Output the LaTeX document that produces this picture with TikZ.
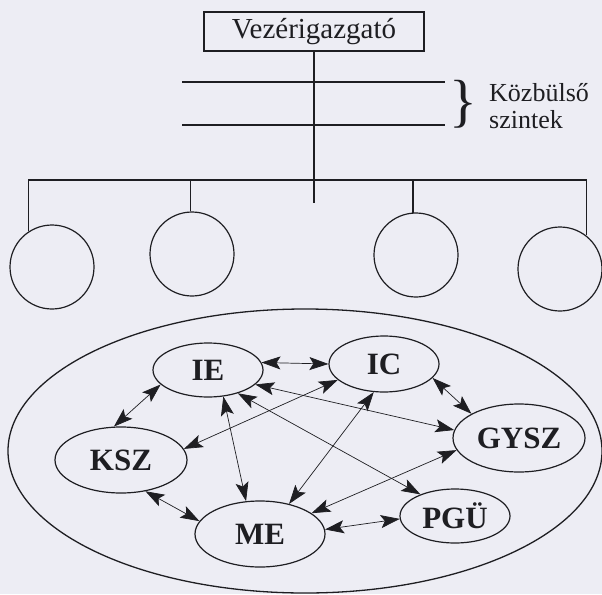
\documentclass[tikz,border=0pt]{standalone}
\usepackage{fontspec}
\setmainfont{Liberation Serif}
\usetikzlibrary{shapes.geometric,arrows.meta}
\definecolor{paper}{RGB}{237,237,244}
\definecolor{ink}{RGB}{30,30,34}
\begin{document}
\begin{tikzpicture}[
  struct/.style={line width=1.3pt, draw=ink},
  unitc/.style={circle, draw=ink, line width=1.2pt, minimum size=84pt, inner sep=0pt},
  dept/.style={ellipse, draw=ink, line width=1.2pt, inner sep=0pt, text=ink,
               font=\fontsize{31}{33}\selectfont\bfseries},
  link/.style={line width=0.7pt, draw=ink,
     {Stealth[length=19pt,width=13pt,inset=4pt]}-{Stealth[length=19pt,width=13pt,inset=4pt]}},
]
\begin{scope}[x=1pt,y=-1pt]
\useasboundingbox (0,0) rectangle (602,594);
\fill[paper] (0,0) rectangle (602,594);

% --- hierarchy ---
\node[draw=ink, line width=1.2pt, minimum width=220pt, minimum height=39pt, inner sep=0pt,
      text=ink, font=\fontsize{29}{30}\selectfont] (vez) at (314,31.5) {Vezérigazgató};
\coordinate (stub) at (314,203);
\coordinate (hub) at (314,180);
\draw[struct] (vez.south) -- (stub);
\coordinate (l1a) at (182,82);  \coordinate (l1b) at (445,82);
\coordinate (l2a) at (182,125); \coordinate (l2b) at (445,125);
\draw[struct] (l1a) -- (l1b);
\draw[struct] (l2a) -- (l2b);
\node[text=ink, inner sep=0pt, font=\fontsize{58}{58}\selectfont] (brace) at (463,104) {\}};
\node[anchor=west, text=ink, font=\fontsize{26}{27}\selectfont, align=left, inner sep=0pt]
  (kozb) at (489,106) {Közbülső\\szintek};

\node[unitc] (c1) at (52,267) {};
\node[unitc] (c2) at (192,254) {};
\node[unitc] (c3) at (416,255) {};
\node[unitc] (c4) at (560,269) {};
\draw[struct] (c1.123) |- (hub) -| (c4.52);
\draw[struct] (c2.92) -- (c2.92 |- hub);
\draw[struct] (c3.94) -- (c3.94 |- hub);

% --- network ---
\node[ellipse, draw=ink, line width=1.3pt, minimum width=594pt, minimum height=284pt, inner sep=0pt] (org) at (305,451) {};
\node[dept, minimum width=110pt, minimum height=54pt] (IE) at (208,370) {IE};
\node[dept, minimum width=110pt, minimum height=56pt] (IC) at (384,364) {IC};
\node[dept, minimum width=132pt, minimum height=68pt] (GYSZ) at (519,438) {GYSZ};
\node[dept, minimum width=132pt, minimum height=66pt] (KSZ) at (121,460) {KSZ};
\node[dept, minimum width=130pt, minimum height=66pt] (ME) at (260,534) {ME};
\node[dept, minimum width=110pt, minimum height=54pt] (PGU) at (455,516) {PGÜ};

\draw[link] (IE.8) -- (IC.180);
\draw[link] (IE.197) -- (KSZ.102);
\draw[link] (IE.-60) -- (ME.113);
\draw[link] (IE.-17) -- (GYSZ.173);
\draw[link] (IE.-38) -- (PGU.148);
\draw[link] (IC.-161) -- (KSZ.10);
\draw[link] (IC.-110) -- (ME.46);
\draw[link] (IC.-16) -- (GYSZ.153);
\draw[link] (GYSZ.191) -- (ME.22);
\draw[link] (KSZ.-52) -- (ME.168);
\draw[link] (ME.4) -- (PGU.183);
\end{scope}
\end{tikzpicture}
\end{document}
